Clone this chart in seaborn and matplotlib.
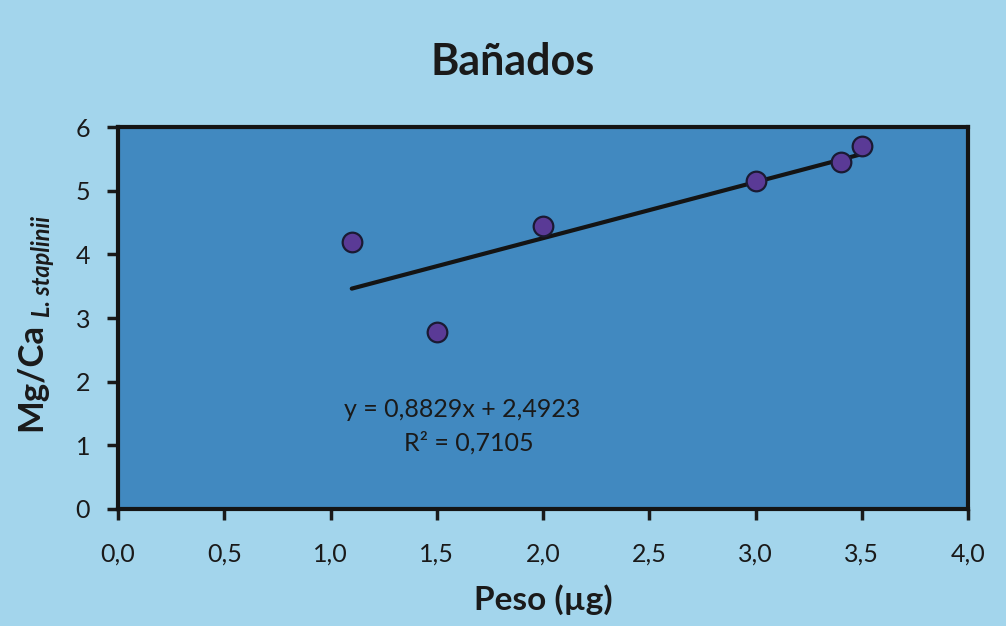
import matplotlib
matplotlib.use("Agg")
import matplotlib.pyplot as plt
import seaborn as sns
import pandas as pd

# values
peso = [1.1, 1.5, 2.0, 3.0, 3.4, 3.5]
mg_ca = [4.2, 2.78, 4.45, 5.15, 5.45, 5.7]
x_ticks = [0.0, 0.5, 1.0, 1.5, 2.0, 2.5, 3.0, 3.5, 4.0]
y_ticks = [0, 1, 2, 3, 4, 5, 6]
eq_text = "y = 0,8829x + 2,4923"
r2_text = "R² = 0,7105"

df = pd.DataFrame({"Peso": peso, "MgCa": mg_ca})

sns.set_style("ticks")
plt.rcParams["font.family"] = ["Lato", "DejaVu Sans"]

fig_bg = "#A3D5EC"
ax_bg = "#4189C0"
ink = "#1A1A1A"

fig = plt.figure(figsize=(10.06, 6.26), dpi=100, facecolor=fig_bg)
ax = fig.add_axes([0.1173, 0.187, 0.845, 0.610])
ax.set_facecolor(ax_bg)

# trend line (OLS fit through the points)
sns.regplot(data=df, x="Peso", y="MgCa", ci=None, scatter=False, ax=ax,
            line_kws={"color": "#141414", "lw": 3, "zorder": 2})
sns.scatterplot(data=df, x="Peso", y="MgCa", ax=ax, s=200, color="#5A3A96",
                edgecolor="#1A1A33", linewidth=1.6, zorder=3)

ax.set_xlim(0, 4)
ax.set_ylim(0, 6)
ax.set_xticks(x_ticks)
ax.set_xticklabels([f"{v:.1f}".replace(".", ",") for v in x_ticks])
ax.set_yticks(y_ticks)
ax.tick_params(direction="out", length=8, width=2.5, labelsize=18, colors=ink)
ax.tick_params(axis="x", pad=16)
ax.tick_params(axis="y", pad=12)

for sp in ax.spines.values():
    sp.set_visible(True)
    sp.set_linewidth(3)
    sp.set_color("#141414")

ax.set_xlabel("")
ax.set_ylabel("")

fig.text(513 / 1006, 1 - 62 / 626, "Bañados", ha="center", va="center",
         fontsize=31, fontweight="bold", color=ink)
fig.text(543 / 1006, 1 - 600 / 626, "Peso (µg)", ha="center", va="center",
         fontsize=24, fontweight="bold", color=ink)

# y label with italic subscript
fig.text(31 / 1006, 1 - 377 / 626, "Mg/Ca", rotation=90, ha="center", va="center",
         fontsize=25, fontweight="bold", color=ink)
fig.text(43 / 1006, 1 - 266 / 626, "L. staplinii", rotation=90, ha="center", va="center",
         fontsize=17, fontweight="bold", fontstyle="italic", color=ink)

ax.text(1.62, 1.56, eq_text, ha="center", va="center", fontsize=18, color=ink)
ax.text(1.65, 1.04, r2_text, ha="center", va="center", fontsize=18, color=ink)

fig.savefig("out.png", dpi=100, facecolor=fig_bg)
